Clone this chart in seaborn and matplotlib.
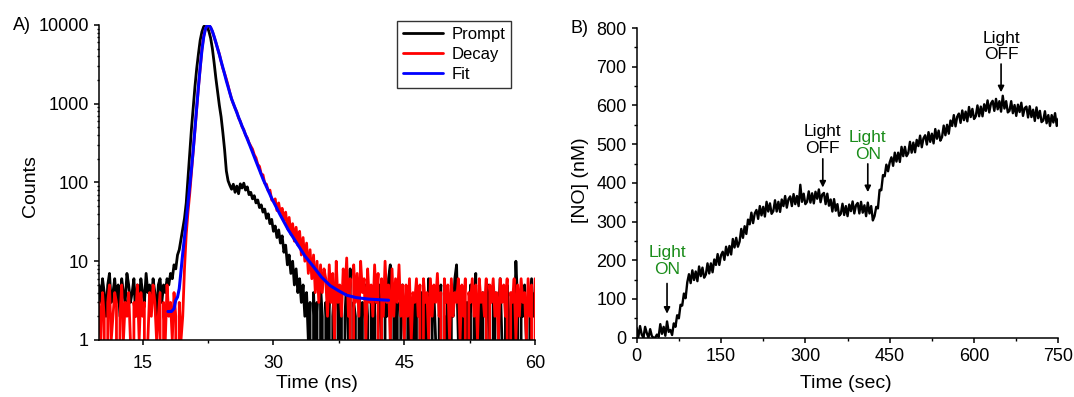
import numpy as np
import pandas as pd
import matplotlib
matplotlib.use("Agg")
import matplotlib.pyplot as plt
import seaborn as sns
from matplotlib.ticker import LogLocator, NullFormatter, MultipleLocator, FixedLocator

# ---------------- Panel A: fluorescence lifetime histogram ----------------
# counts per 0.2 ns channel, first channel at 10 ns
channel_start_ns = 10.0
channel_width_ns = 0.2

prompt_counts = [
    # 10.0 - 17.8 ns baseline
    5, 3, 6, 4, 2, 5, 7, 3, 4, 6,
    3, 5, 2, 6, 4, 3, 7, 5, 3, 4,
    6, 2, 5, 3, 6, 4, 3, 7, 4, 5,
    3, 6, 4, 2, 5, 6, 3, 5, 4, 6,
    # 18.0 - 25.0 ns pulse
    5, 7, 6, 9, 8, 12, 14, 19, 26, 35,
    55, 115, 240, 480, 900, 1650, 2800, 4300, 6400, 8200,
    9500, 10000, 9500, 8300, 6800, 5000, 3300, 2100, 1400, 950,
    680, 430, 260, 140, 105, 92,
    # 25.2 - 34.0 ns shoulder and fall
    82, 95, 75, 90, 72, 96, 85, 98, 80, 88,
    70, 75, 62, 68, 55, 60, 48, 52, 42, 46,
    35, 40, 30, 34, 24, 28, 20, 25, 17, 21,
    13, 16, 9, 12, 7, 10, 5, 8, 4, 6,
    3, 5, 2, 4, 1,
    # 34.2 - 60.0 ns background
    3, 0, 4, 1, 3, 0, 5, 2, 0, 3,
    1, 4, 0, 2, 5, 0, 3, 1, 4, 0,
    2, 6, 1, 8, 0, 3, 2, 0, 4, 1,
    3, 0, 5, 2, 0, 4, 1, 3, 0, 2,
    5, 1, 0, 3, 2, 6, 9, 0, 4, 1,
    3, 0, 2, 5, 1, 0, 4, 2, 0, 3,
    1, 5, 0, 2, 4, 0, 3, 1, 6, 0,
    2, 4, 1, 0, 3, 5, 0, 2, 1, 4,
    0, 3, 2, 6, 9, 1, 0, 4, 2, 0,
    3, 1, 5, 0, 2, 7, 0, 3, 1, 4,
    0, 2, 5, 1, 0, 3, 4, 0, 2, 6,
    1, 0, 3, 5, 2, 0, 4, 1, 10, 3,
    0, 4, 2, 5, 1, 0, 3, 6, 2, 4,
]

decay_counts = [
    # 10.0 - 19.6 ns baseline
    3, 1, 4, 2, 0, 3, 5, 1, 2, 4,
    3, 0, 2, 5, 1, 3, 2, 4, 1, 0,
    3, 2, 5, 1, 4, 2, 3, 0, 1, 4,
    2, 5, 3, 1, 2, 4, 0, 3, 1, 5,
    2, 3, 1, 4, 2, 0, 3, 1, 2,
    # 19.8 - 30.0 ns rise and decay
    8, 22, 42, 72, 135, 250, 470, 880, 1620, 2850,
    4900, 7200, 8900, 9900, 9950, 9250, 8250, 7050, 5950, 5050,
    4250, 3450, 2800, 2420, 2050, 1700, 1380, 1150, 1000, 880,
    790, 660, 600, 510, 470, 400, 370, 320, 290, 265,
    225, 205, 170, 160, 128, 125, 98, 95, 78, 80,
    60, 58,
    # 30.2 - 35.8 ns tail
    62, 44, 55, 40, 47, 33, 42, 26, 36, 22,
    30, 18, 27, 16, 24, 12, 20, 10, 17, 7,
    14, 6, 12, 4, 10, 3, 9, 4, 8,
    # 36.0 - 45.0 ns
    6, 2, 9, 3, 7, 1, 10, 3, 5, 2,
    8, 4, 11, 2, 6, 0, 9, 3, 7, 2,
    10, 4, 6, 1, 8, 3, 5, 2, 9, 3,
    7, 0, 6, 2, 10, 3, 5, 1, 8, 2,
    6, 3, 9, 2, 5, 1,
    # 45.2 - 60.0 ns background
    5, 2, 6, 1, 4, 3, 6, 2, 5, 0,
    6, 3, 4, 1, 6, 2, 5, 3, 7, 2,
    4, 0, 6, 3, 5, 1, 6, 2, 4, 3,
    6, 1, 5, 2, 6, 0, 4, 3, 6, 2,
    5, 1, 6, 3, 4, 2, 6, 0, 5, 3,
    6, 2, 4, 1, 6, 3, 5, 2, 6, 0,
    4, 3, 6, 1, 5, 2, 6, 3, 4, 1,
    6, 2, 5, 0, 6,
]

fit_time_ns = [17.9, 18.3, 18.6, 18.8, 19.0, 19.2, 19.4, 19.6, 19.8, 20.0,
               20.2, 20.4, 20.6, 20.8, 21.0, 21.2, 21.4, 21.6, 21.8, 22.0,
               22.2, 22.4, 22.6, 22.8, 23.0, 23.2, 23.4, 23.6, 23.8, 24.0,
               24.25, 24.6, 25.2, 26.2, 27.3, 28.0, 28.84, 29.8, 30.76, 31.7,
               32.67, 33.6, 34.6, 35.5, 36.5, 37.5, 38.4, 39.5, 41.0, 43.2]
fit_counts = [2.3, 2.3, 2.5, 3.2, 3.5, 4.5, 7.5, 12.6, 20, 33,
              55, 90, 150, 258, 480, 900, 1650, 2900, 4800, 7000,
              8900, 9900, 9950, 9300, 8300, 7100, 6000, 5000, 4200, 3450,
              2750, 1950, 1150, 590, 295, 186, 108, 63, 39, 25,
              17, 11.7, 8.5, 6.3, 4.9, 4.2, 3.7, 3.45, 3.3, 3.2]

a_xticks = [15, 30, 45, 60]
a_yticks = [1, 10, 100, 1000, 10000]

# ---------------- Panel B: NO release trace ----------------
no_time_step_s = 3
no_conc_nM = [
    25, 2, 30, 8, 0, 28, 12, 0, 22, 4, 0, 0, 8, 2, 35, 10, 28, 5, 42, 15, 20,
    7, 37, 28, 58, 50, 85, 83, 114, 102, 143,
    164, 141, 174, 149, 171, 146, 184, 159, 181, 155,
    163, 192, 166, 192, 169, 202, 188, 216, 188, 213,
    222, 201, 235, 213, 237, 215, 255, 233, 258, 235,
    248, 281, 258, 288, 268, 305, 293, 323, 296, 321,
    330, 307, 340, 316, 338, 313, 351, 326, 347, 320,
    327, 355, 326, 351, 325, 357, 340, 366, 336, 358,
    365, 340, 371, 345, 366, 340, 395, 351, 372, 345,
    351, 378, 349, 373, 347, 377, 359, 383, 350, 370,
    374, 345, 372, 341, 357, 326, 358, 328, 345, 315,
    320, 346, 317, 340, 314, 344, 327, 352, 321, 342,
    348, 321, 351, 323, 342, 314, 349, 321, 340, 303,
    314, 338, 334, 382, 381, 420, 417, 447, 430, 453,
    466, 444, 478, 455, 478, 454, 493, 469, 493, 469,
    477, 506, 478, 504, 479, 511, 495, 522, 492, 515,
    523, 499, 531, 506, 527, 502, 539, 514, 535, 509,
    518, 548, 523, 550, 527, 561, 547, 575, 546, 571,
    579, 555, 587, 562, 584, 559, 596, 570, 591, 565,
    572, 600, 572, 597, 572, 603, 586, 613, 582, 605,
    612, 586, 617, 590, 611, 584, 625, 592, 611, 582,
    586, 611, 580, 601, 573, 602, 583, 607, 573, 593,
    597, 569, 598, 570, 589, 560, 595, 567, 586, 557,
    561, 585, 554, 575, 547, 575, 556, 580, 547, 566,
]

# light switching events: label, colour, time (s), arrow tail / tip (nM), text base (nM)
event_labels = ["Light\nON", "Light\nOFF", "Light\nON", "Light\nOFF"]
event_colors = ["#1a8c1a", "black", "#1a8c1a", "black"]
event_time_s = [54, 331, 411, 648]
event_tail_nM = [140, 462, 449, 707]
event_tip_nM = [62, 388, 376, 634]
event_text_nM = [158, 470, 455, 711]

b_xticks = [0, 150, 300, 450, 600, 750]
b_yticks = list(range(0, 801, 100))

# ---------------- style ----------------
sns.set_theme(style="ticks")
plt.rcParams["font.family"] = ["Liberation Sans", "DejaVu Sans"]
plt.rcParams.update({
    "text.color": "black",
    "axes.labelcolor": "black",
    "xtick.color": "black",
    "ytick.color": "black",
    "axes.edgecolor": "black",
    "axes.linewidth": 1.1,
    "xtick.major.width": 1.1,
    "ytick.major.width": 1.1,
    "xtick.minor.width": 1.0,
    "ytick.minor.width": 1.0,
    "xtick.major.size": 3.8,
    "ytick.major.size": 3.8,
    "xtick.minor.size": 2.3,
    "ytick.minor.size": 2.3,
})

TICK_FS = 13
LABEL_FS = 14

fig = plt.figure(figsize=(10.74, 3.97), dpi=100)
ax_a = fig.add_axes([0.0922, 0.1436, 0.406, 0.7935])
ax_b = fig.add_axes([0.5928, 0.1494, 0.3927, 0.780])

# ---- panel A ----
df_prompt = pd.DataFrame({
    "t": channel_start_ns + channel_width_ns * np.arange(len(prompt_counts)),
    "counts": prompt_counts,
})
df_decay = pd.DataFrame({
    "t": channel_start_ns + channel_width_ns * np.arange(len(decay_counts)),
    "counts": decay_counts,
})
df_fit = pd.DataFrame({"t": fit_time_ns, "counts": fit_counts})

sns.lineplot(data=df_prompt, x="t", y="counts", ax=ax_a, color="black",
             lw=2.0, estimator=None, label="Prompt")
sns.lineplot(data=df_decay, x="t", y="counts", ax=ax_a, color="#ff0000",
             lw=2.0, estimator=None, label="Decay")
sns.lineplot(data=df_fit, x="t", y="counts", ax=ax_a, color="#0000ff",
             lw=2.2, estimator=None, label="Fit")

ax_a.set_yscale("log", nonpositive="clip")
ax_a.set_xlim(10, 60)
ax_a.set_ylim(1, 10000)
ax_a.xaxis.set_major_locator(FixedLocator(a_xticks))
ax_a.xaxis.set_minor_locator(MultipleLocator(7.5))
ax_a.yaxis.set_major_locator(FixedLocator(a_yticks))
ax_a.yaxis.set_minor_locator(LogLocator(base=10, subs=np.arange(2, 10)))
ax_a.yaxis.set_minor_formatter(NullFormatter())
ax_a.set_yticklabels([str(v) for v in a_yticks])
ax_a.tick_params(axis="both", which="both", direction="out", labelsize=TICK_FS)
ax_a.tick_params(axis="x", which="major", pad=7)
ax_a.tick_params(axis="y", which="minor", length=1.6)
ax_a.set_xlabel("Time (ns)", fontsize=LABEL_FS)
ax_a.set_ylabel("Counts", fontsize=LABEL_FS)
ax_a.xaxis.set_label_coords(0.5, -0.112)
ax_a.yaxis.set_label_coords(-0.138, 0.49)
sns.despine(ax=ax_a)

leg = ax_a.legend(loc="upper right", bbox_to_anchor=(0.945, 1.012), fontsize=12,
                  frameon=True, fancybox=False, edgecolor="black",
                  handlelength=2.4, handletextpad=0.5, borderpad=0.35,
                  labelspacing=0.3, borderaxespad=0.0)
leg.get_frame().set_linewidth(1.0)
for line in leg.get_lines():
    line.set_linewidth(2.0)

# ---- panel B ----
df_no = pd.DataFrame({
    "t": no_time_step_s * np.arange(len(no_conc_nM)),
    "no": no_conc_nM,
})
sns.lineplot(data=df_no, x="t", y="no", ax=ax_b, color="black", lw=1.7,
             estimator=None)
ax_b.set_xlim(0, 750)
ax_b.set_ylim(0, 800)
ax_b.xaxis.set_major_locator(FixedLocator(b_xticks))
ax_b.xaxis.set_minor_locator(MultipleLocator(75))
ax_b.yaxis.set_major_locator(FixedLocator(b_yticks))
ax_b.yaxis.set_minor_locator(MultipleLocator(50))
ax_b.tick_params(axis="both", which="both", direction="out", labelsize=TICK_FS)
ax_b.set_xlabel("Time (sec)", fontsize=LABEL_FS)
ax_b.set_ylabel("[NO] (nM)", fontsize=LABEL_FS)
ax_b.xaxis.set_label_coords(0.496, -0.12)
ax_b.yaxis.set_label_coords(-0.113, 0.51)
sns.despine(ax=ax_b)

for lab, col, t, tail, tip, ty in zip(event_labels, event_colors, event_time_s,
                                      event_tail_nM, event_tip_nM, event_text_nM):
    ax_b.annotate("", xy=(t, tip), xytext=(t, tail),
                  arrowprops=dict(arrowstyle="-|>", color="black", lw=1.2,
                                  mutation_scale=9, shrinkA=0, shrinkB=0))
    ax_b.text(t, ty, lab, color=col, ha="center", va="bottom", fontsize=12.5,
              linespacing=1.15)

fig.text(0.0205, 0.937, "A)", fontsize=TICK_FS, ha="center", va="center")
fig.text(0.540, 0.928, "B)", fontsize=TICK_FS, ha="center", va="center")

fig.savefig("out.png", dpi=100, facecolor="white")
